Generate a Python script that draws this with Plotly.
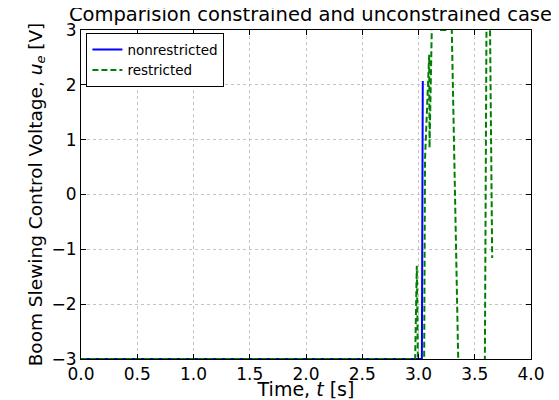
import plotly.graph_objects as go

# nonrestricted (blue) control voltage
t_nonrestricted = [0.0, 3.030, 3.038]
u_nonrestricted = [-3.0, -3.0, 2.07]

# restricted (green dashed) control voltage
t_restricted = [0.0, 2.970, 2.985, 2.995, 3.050, 3.058, 3.095, 3.098, 3.118,
                3.150, 3.200, 3.240, 3.270, 3.296, 3.353, 3.370, 3.580,
                3.590, 3.604, 3.620, 3.636, 3.655]
u_restricted = [-3.0, -3.0, -1.30, -3.10, -3.10, 0.65, 2.55, 0.85, 3.0,
                3.4, 3.0, 3.0, 3.3, 3.0, -3.0, -3.4, -3.4,
                -3.0, 3.0, 3.5, 3.0, -1.16]

x_ticks = [0.0, 0.5, 1.0, 1.5, 2.0, 2.5, 3.0, 3.5, 4.0]
y_ticks = [-3, -2, -1, 0, 1, 2, 3]

FONT = "DejaVu Sans"

fig = go.Figure()
fig.add_trace(go.Scatter(x=t_nonrestricted, y=u_nonrestricted, mode="lines",
                         name="nonrestricted", line=dict(color="#0000ff", width=2)))
fig.add_trace(go.Scatter(x=t_restricted, y=u_restricted, mode="lines",
                         name="restricted",
                         line=dict(color="#008000", width=2, dash="6px,3px")))

axis_common = dict(showline=True, linecolor="black", linewidth=1, mirror="ticks",
                   ticks="inside", ticklen=5, tickcolor="black",
                   showgrid=True, gridcolor="#c4c4c4", griddash="dot", gridwidth=1,
                   zeroline=False, tickfont=dict(family=FONT, size=17, color="black"))

fig.update_xaxes(range=[0, 4], tickvals=x_ticks,
                 ticktext=[f"{v:.1f}" for v in x_ticks], automargin=False,
                 title=dict(text="Time, <i>t</i> [s]", font=dict(family=FONT, size=19, color="black"),
                            standoff=10),
                 **axis_common)
fig.update_yaxes(range=[-3, 3], tickvals=y_ticks, automargin=False,
                 title=dict(text="Boom Slewing Control Voltage, <i>u<sub>e</sub></i> [V]",
                            font=dict(family=FONT, size=18.5, color="black"), standoff=4),
                 **axis_common)

# the page body adds an 8px offset, so the figure is sized to the remaining window
fig.update_layout(
    width=551, height=392,
    margin=dict(l=73, r=28, t=22, b=41),
    paper_bgcolor="white", plot_bgcolor="white",
    title=dict(text="Comparision constrained and unconstrained case",
               font=dict(family=FONT, size=19.5, color="black"),
               x=0.549, xanchor="center", y=0.985, yanchor="middle"),
    legend=dict(x=0.012, y=0.99, xanchor="left", yanchor="top",
                bgcolor="white", bordercolor="black", borderwidth=1,
                font=dict(family=FONT, size=13.5, color="black"),
                itemwidth=30, tracegroupgap=0),
    showlegend=True,
)

fig.write_html("out.html")
